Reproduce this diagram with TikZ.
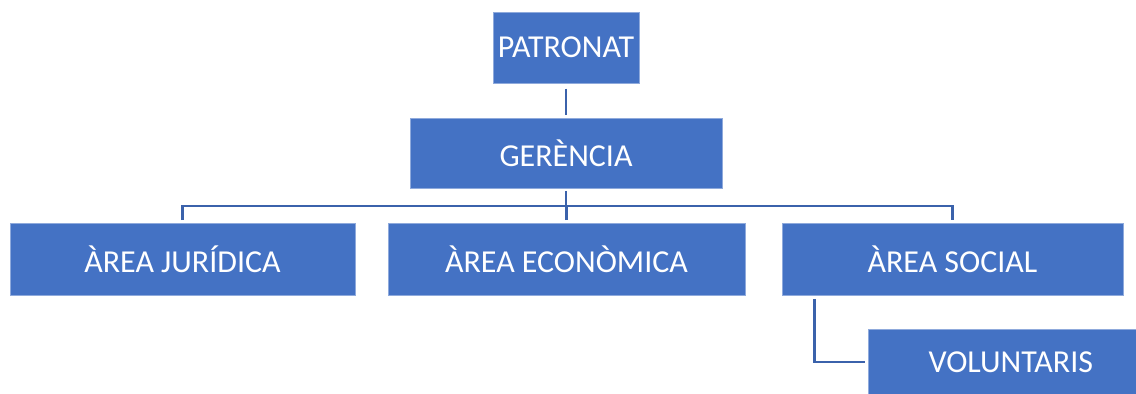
\documentclass[tikz,border=0pt]{standalone}
\usepackage{fontspec}
\setmainfont{Carlito}
\definecolor{boxblue}{HTML}{4472C4}
\definecolor{lineblue}{HTML}{3B62AB}
\tikzset{
  orgbox/.style={fill=boxblue, draw=boxblue!60!white, line width=0.4pt,
    text=white, inner sep=0pt, font=\fontsize{18.2}{21}\selectfont},
  link/.style={draw=lineblue, line width=1.5pt}
}
\begin{document}
\begin{tikzpicture}[x=0.02cm, y=-0.02cm]
      \useasboundingbox (0, 0) rectangle (1136, 394);
      \node (patronat) [orgbox, minimum width=146*0.02cm, minimum height=71*0.02cm] at (566, 47.5) {PATRONAT};
      \node (gerencia) [orgbox, minimum width=312*0.02cm, minimum height=70*0.02cm] at (566, 153) {GERÈNCIA};
      \node (juridica) [orgbox, minimum width=345*0.02cm, minimum height=72*0.02cm] at (182.5, 259) {ÀREA JURÍDICA};
      \node (economica) [orgbox, minimum width=357*0.02cm, minimum height=72*0.02cm] at (566.5, 259) {ÀREA ECONÒMICA};
      \node (social) [orgbox, minimum width=341*0.02cm, minimum height=72*0.02cm] at (952.5, 259) {ÀREA SOCIAL};
      \node (voluntaris) [orgbox, minimum width=268*0.02cm, minimum height=66*0.02cm] at (1002, 362) {\hspace*{10pt}VOLUNTARIS};
      \coordinate (bus) at (0, 206);
      \draw[link, shorten <=3pt, shorten >=1.5pt] (patronat) -- (gerencia);
      \draw[link, shorten <=1.5pt] (gerencia) -- (gerencia |- bus);
      \draw[link, shorten <=1.5pt, shorten >=1.5pt] (juridica.north) -- (juridica.north |- bus) -| (social.north);
      \draw[link, shorten <=1.5pt] (economica.north) -- (economica.north |- bus);
      \draw[link, shorten <=2pt, shorten >=1.5pt] ([xshift=33*0.02cm]social.south west) |- (voluntaris.west);
\end{tikzpicture}
\end{document}
